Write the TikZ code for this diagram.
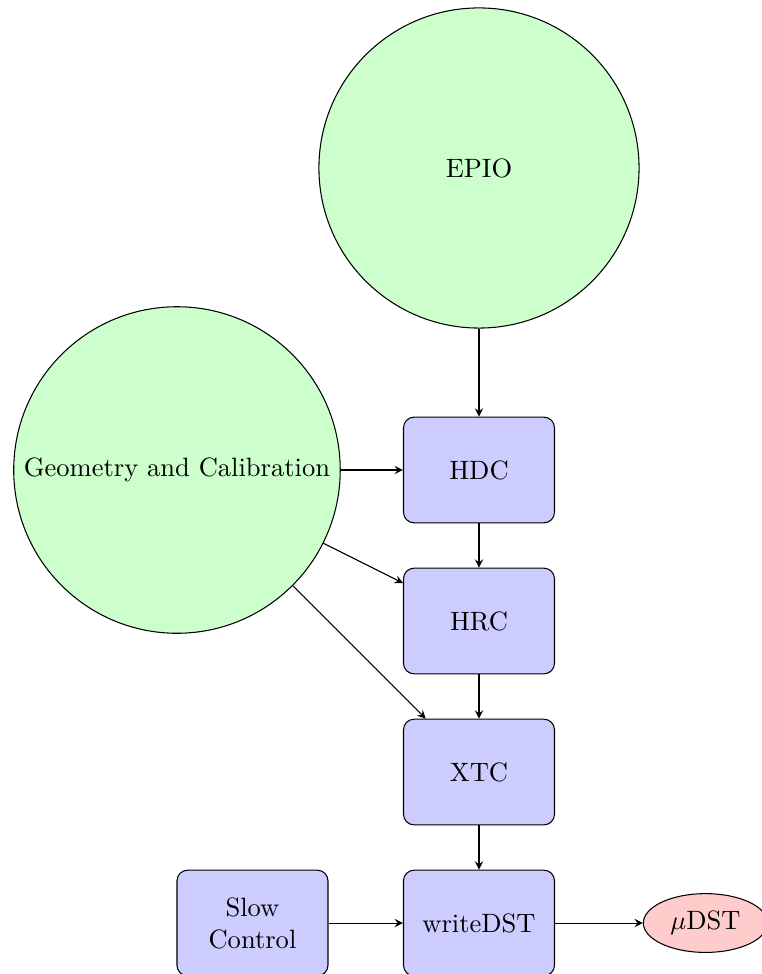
\documentclass[tikz,border=0pt]{standalone}
\usetikzlibrary{shapes.geometric}
\begin{document}
\begin{tikzpicture}[
  proc/.style={draw, rounded corners, fill=blue!20, minimum width=2cm, minimum height=1.4cm, align=center},
  src/.style={draw, circle, fill=green!20, minimum size=4.24cm},
  product/.style={draw, ellipse, fill=red!20},
  flow/.style={-stealth}
]
\useasboundingbox (-6.344,-0.675) rectangle (3.748,12.225);
\node[proc] (wdst) at (0,0) {writeDST};
\node[proc] (slow) at (-3,0) {Slow\\Control};
\node[product] (mdst) at (3,0) {$\mu$DST};
\node[proc] (xtc) at (0,2) {XTC};
\node[proc] (hrc) at (0,4) {HRC};
\node[proc] (hdc) at (0,6) {HDC};
\node[src]  (geo) at (-4,6) {Geometry and Calibration};
\node[src]  (epio) at (0,10) {EPIO};

\draw[flow] (epio) -- (hdc);
\draw[flow] (geo) -- (hdc);
\draw[flow] (geo) -- (hrc);
\draw[flow] (geo) -- (xtc);
\draw[flow] (hdc) -- (hrc);
\draw[flow] (hrc) -- (xtc);
\draw[flow] (xtc) -- (wdst);
\draw[flow] (slow) -- (wdst);
\draw[flow] (wdst) -- (mdst);
\end{tikzpicture}
\end{document}
